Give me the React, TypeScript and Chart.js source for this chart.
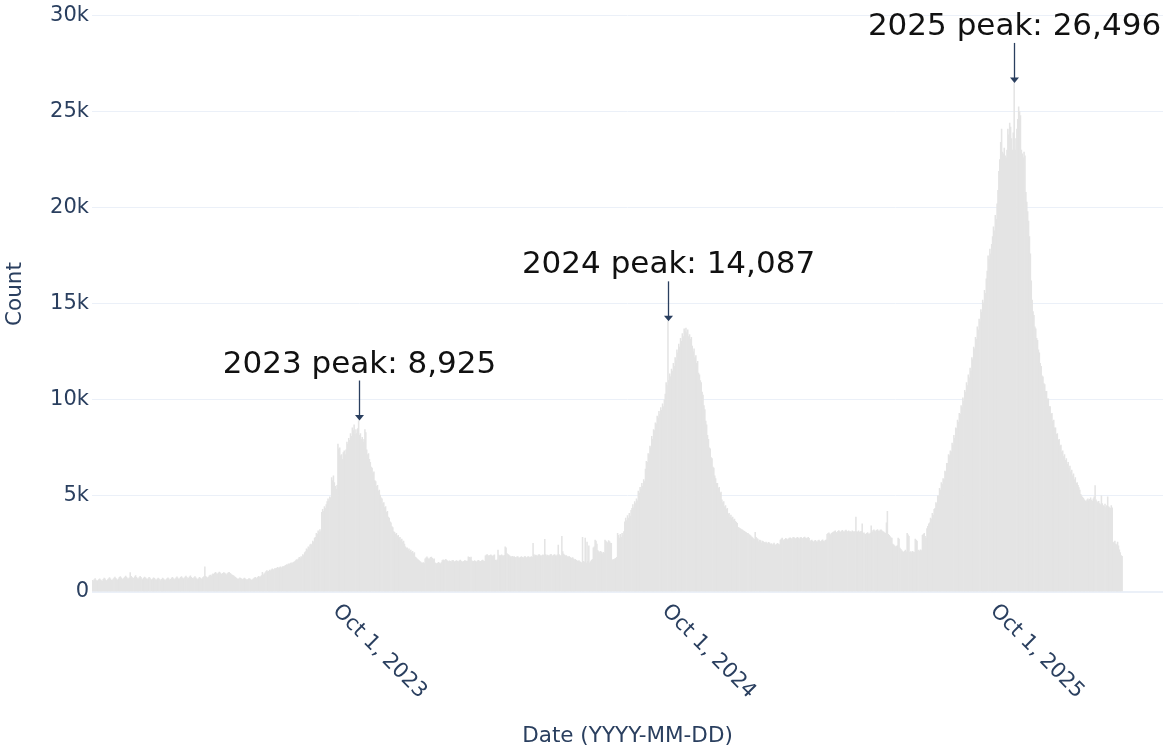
import React, { useEffect, useRef } from 'react';
import { Chart, registerables } from 'chart.js';

Chart.register(...registerables);

// ---------- data ----------
const startDate = '2023-01-01';
const axisEndDate = '2026-04-05';

const yearStarts = ['2023-01-01', '2024-01-01', '2025-01-01', '2026-01-01'];

const counts2023 = [
  610, 580, 640, 700, 620, 560, 590, 650, 690, 630,
  600, 570, 660, 720, 680, 610, 580, 640, 700, 750,
  690, 620, 600, 670, 730, 780, 710, 640, 620, 690,
  760, 800, 740, 680, 650, 720, 780, 830, 760, 700,
  680, 740, 1010, 820, 760, 700, 730, 790, 850, 770,
  700, 680, 750, 810, 760, 690, 650, 720, 780, 740,
  680, 640, 700, 760, 720, 660, 620, 690, 740, 710,
  650, 610, 670, 730, 690, 640, 600, 660, 720, 690,
  630, 600, 650, 700, 740, 680, 620, 660, 720, 760,
  700, 640, 680, 740, 790, 720, 660, 700, 760, 800,
  740, 680, 720, 780, 830, 760, 700, 730, 790, 840,
  770, 710, 690, 750, 800, 740, 680, 650, 700, 760,
  720, 670, 700, 760, 800, 1310, 820, 760, 720, 780,
  840, 880, 820, 900, 950, 920, 980, 1020, 960, 930,
  990, 1040, 1000, 950, 920, 970, 1010, 980, 940, 900,
  960, 1000, 1030, 970, 930, 900, 870, 840, 800, 760,
  720, 690, 660, 700, 740, 710, 670, 640, 680, 720,
  690, 650, 620, 660, 700, 680, 640, 610, 650, 690,
  720, 760, 700, 740, 780, 820, 760, 800, 860, 1020,
  880, 940, 1000, 1060, 1110, 1050, 1080, 1140, 1100, 1160,
  1200, 1140, 1180, 1230, 1190, 1250, 1290, 1230, 1270, 1310,
  1260, 1300, 1340, 1300, 1360, 1390, 1430, 1410, 1460, 1440,
  1490, 1520, 1480, 1530, 1560, 1580, 1640, 1690, 1660, 1730,
  1800, 1740, 1850, 1820, 1950, 1900, 2050, 2100, 2250, 2200,
  2350, 2300, 2450, 2500, 2450, 2650, 2600, 2800, 2850, 3050,
  3000, 3180, 3100, 3250, 3150, 4150, 4300, 4200, 4450, 4350,
  4550, 4700, 4850, 4750, 4950, 4900, 5950, 5800, 6050, 5700,
  5500, 5350, 5550, 7700, 7450, 7500, 7100, 7150, 6900, 7250,
  7350, 7150, 7400, 7800, 7700, 8000, 7900, 8250, 8100, 8550,
  8400, 8700, 8200, 8450, 8250, 8500, 8925, 8150, 8250, 7950,
  8050, 7800, 7950, 8450, 8300, 7400, 7150, 7200, 6900, 6750,
  6500, 6450, 6200, 6250, 5800, 5750, 5500, 5550, 5250, 5300,
  5050, 4900, 4850, 4600, 4650, 4400, 4450, 4150, 4200, 3900,
  3850, 3650, 3600, 3400, 3350, 3150, 3100, 3000, 3050, 2900,
  2950, 2800, 2850, 2700, 2750, 2600, 2650, 2500, 2350, 2280,
  2300, 2200, 2250, 2120, 2180, 2060, 2120, 2000, 2050, 1820,
  1780, 1730, 1690, 1650, 1600,
];

const counts2024 = [
  1560, 1520, 1500, 1530, 1480, 1720, 1780, 1830, 1760, 1700,
  1740, 1800, 1820, 1750, 1690, 1730, 1520, 1480, 1460, 1510,
  1550, 1490, 1470, 1530, 1640, 1680, 1620, 1660, 1700, 1650,
  1610, 1580, 1620, 1600, 1570, 1630, 1650, 1590, 1560, 1610,
  1640, 1600, 1570, 1620, 1660, 1610, 1580, 1550, 1600, 1640,
  1620, 1590, 1610, 1830, 1800, 1760, 1820, 1620, 1580, 1600,
  1640, 1590, 1560, 1610, 1650, 1620, 1580, 1600, 1630, 1660,
  1610, 1590, 1880, 1920, 1950, 1900, 1870, 1910, 1940, 1890,
  1860, 1900, 1930, 1660, 1640, 1680, 2180, 1920, 1880, 1900,
  1940, 1890, 1870, 1910, 2350, 2300, 2000, 1960, 1920, 1880,
  1850, 1830, 1860, 1820, 1840, 1800, 1780, 1830, 1850, 1790,
  1760, 1810, 1840, 1800, 1770, 1820, 1860, 1800, 1780, 1830,
  1850, 1790, 1810, 1840, 1800, 2530, 1950, 1880, 1920, 1900,
  1870, 1930, 1950, 1890, 1860, 1910, 1940, 1900, 2740, 1950,
  1880, 1920, 1900, 1880, 1940, 1960, 1890, 1870, 1920, 1950,
  1900, 1880, 1930, 2440, 1950, 1900, 1880, 2900, 2100, 1980,
  1920, 1880, 1900, 1850, 1820, 1860, 1800, 1780, 1750, 1790,
  1720, 1680, 1700, 1650, 1620, 1600, 1640, 1580, 1550, 1520,
  2850, 1600, 1560, 2800, 1500, 2600, 1600, 2400, 1520, 1580,
  1650, 1700, 2300, 2350, 2700, 2650, 2500, 2150, 2100, 2050,
  2120, 2080, 2000, 2060, 2020, 2700, 2650, 2600, 2560, 2680,
  2620, 2550, 2530, 1650, 1700, 1680, 1720, 1750, 1800, 3050,
  2950, 2800, 3000, 2850, 3050, 2950, 3150, 3650, 3850, 3720,
  3980, 3850, 4100, 3950, 4250, 4350, 4550, 4400, 4700, 4600,
  4850, 4750, 5250, 5150, 5450, 5350, 5650, 5500, 5850, 5750,
  6400, 6800, 6750, 7200, 7150, 7600, 7500, 8100, 7950, 8450,
  8400, 8800, 8750, 9150, 9050, 9400, 9250, 9600, 9450, 9800,
  9650, 10000, 10300, 10900, 10750, 14087, 11000, 11350, 11200, 11600,
  11500, 11900, 11750, 12200, 12050, 12600, 12450, 12900, 12750, 13200,
  13050, 13450, 13300, 13700, 13550, 13730, 13500, 13650, 13300, 13400,
  13150, 13250, 12800, 12500, 12650, 12200, 12300, 11900, 12000, 11400,
  11300, 11000, 10900, 10400, 10250, 9700, 9500, 8900, 8700, 8150,
  7950, 7500, 7450, 7000, 6950, 6500, 6450, 6050, 5900, 5650,
  5650, 5400, 5450, 5150, 5200, 4800, 4650, 4700, 4450, 4500,
  4300, 4350, 4050, 4100, 3900, 4000, 3850, 3900, 3750, 3800,
  3680, 3620, 3570, 3370, 3340, 3310, 3280, 3250, 3220, 3190,
  3160, 3120, 3090, 3050, 3050, 3000,
];

const counts2025 = [
  2960, 2920, 2870, 2830, 2780, 2740, 3100, 2850, 2780, 2750,
  2620, 2700, 2680, 2560, 2650, 2620, 2580, 2540, 2600, 2560,
  2520, 2580, 2540, 2480, 2520, 2450, 2500, 2540, 2470, 2430,
  2490, 2530, 2480, 2460, 2700, 2760, 2800, 2720, 2680, 2740,
  2790, 2750, 2710, 2770, 2800, 2820, 2780, 2760, 2830, 2850,
  2790, 2770, 2810, 2840, 2800, 2760, 2820, 2850, 2790, 2770,
  2830, 2860, 2800, 2780, 2810, 2840, 2790, 2620, 2680, 2700,
  2640, 2600, 2660, 2690, 2630, 2610, 2670, 2700, 2640, 2620,
  2680, 2710, 2650, 2630, 2690, 2720, 3000, 3050, 3080, 3020,
  2980, 3060, 3090, 3120, 3150, 3180, 3100, 3080, 3160, 3200,
  3140, 3110, 3170, 3210, 3150, 3120, 3180, 3220, 3160, 3130,
  3190, 3150, 3150, 3120, 3180, 3140, 3100, 3160, 3900, 3150,
  3120, 3180, 3100, 3140, 3160, 3550, 3050, 3080, 3020, 3000,
  3060, 3090, 3030, 3010, 3070, 3450, 3100, 3200, 3230, 3180,
  3150, 3210, 3250, 3190, 3160, 3220, 3240, 3180, 3150, 3120,
  3080, 3050, 3600, 4200, 3000, 2950, 2880, 2820, 2800, 2500,
  2450, 2400, 2350, 2380, 2420, 2800, 2750, 2280, 2220, 2150,
  2100, 2070, 2120, 2180, 2090, 3050, 2980, 2900, 2070, 2100,
  2050, 2120, 2080, 2060, 2750, 2700, 2650, 2150, 2180, 2120,
  2200, 2160, 2950, 3000, 3050, 2900, 2800, 3300, 3420, 3550,
  3600, 3850, 3800, 4100, 4000, 4300, 4350, 4650, 4600, 5000,
  5000, 5400, 5300, 5700, 5600, 5900, 5850, 6300, 6250, 6700,
  6700, 7150, 7100, 7350, 7300, 7750, 7650, 8150, 8000, 8550,
  8500, 8950, 8850, 9300, 9250, 9700, 9600, 10100, 9950, 10500,
  10400, 10900, 10750, 11300, 11150, 11650, 11500, 12200, 12100, 12750,
  12650, 13250, 13150, 13800, 13650, 14200, 14050, 14700, 14550, 15200,
  15050, 15700, 15550, 16300, 16700, 17500, 17300, 17850, 17600, 18100,
  18500, 19000, 18800, 19600, 19400, 20200, 20900, 21900, 22500, 23400,
  24100, 22900, 22800, 23100, 22700, 22600, 23000, 24100, 23800, 24400,
  24200, 23600, 23000, 23900, 26496, 23000, 23600, 24100, 24600, 25250,
  25000, 24800, 23000, 22800, 22600, 22900, 22700, 20800, 20300, 19800,
  19300, 18500, 17600, 16200, 15200, 14600, 14400, 13800, 13700, 13200,
  13100, 12600, 12450, 11900, 11750, 11250, 11200, 10850, 10800, 10450,
  10450, 10050, 10050, 9650, 9650, 9250, 9300, 8900, 8950, 8550,
  8550, 8200, 8250, 7900, 7950, 7600, 7650, 7300, 7350, 7050,
  7150, 6850, 6950, 6650, 6750, 6450, 6550, 6250, 6350, 6050,
  6150, 5850, 5950, 5650, 5700,
];

const counts2026 = [
  5550, 5440, 5300, 5080, 5000, 4930, 4870, 4800, 4750, 4700,
  4800, 4850, 4760, 4820, 4900, 4780, 4720, 4850, 4950, 5540,
  4800, 4700, 4650, 4720, 4600, 4550, 5000, 4600, 4500, 4450,
  4580, 4400, 4500, 4950, 4450, 4400, 4350, 4500, 4380, 2600,
  2550, 2650, 2500, 2450, 2600, 2400, 2200, 2050, 1900, 1860,
];

const yearCounts = [counts2023, counts2024, counts2025, counts2026];
const peakYears = ['2023', '2024', '2025'];

const xTickDates = ['2023-10-01', '2024-10-01', '2025-10-01'];
const yMax = 30000;
const yStep = 5000;

const xTitle = 'Date (YYYY-MM-DD)';
const yTitle = 'Count';

// ---------- styling ----------
const AXIS_COLOR = '#2a3f5f';
const GRID_COLOR = '#ebf0f8';
const BAR_COLOR = '#e4e4e4';
const FONT = '"DejaVu Sans", Verdana, sans-serif';

const DAY = 86400000;
const dayIndex = (d: string) => Math.round((Date.parse(d + 'T00:00:00Z') - Date.parse(startDate + 'T00:00:00Z')) / DAY);

const nDays = dayIndex(axisEndDate) + 1;
const labels: string[] = [];
for (let i = 0; i < nDays; i++) {
  labels.push(new Date(Date.parse(startDate + 'T00:00:00Z') + i * DAY).toISOString().slice(0, 10));
}
const values: (number | null)[] = new Array(nDays).fill(null);
yearCounts.forEach((arr, k) => {
  const off = dayIndex(yearStarts[k]);
  arr.forEach((v, i) => {
    values[off + i] = v;
  });
});

const MONTHS = ['Jan', 'Feb', 'Mar', 'Apr', 'May', 'Jun', 'Jul', 'Aug', 'Sep', 'Oct', 'Nov', 'Dec'];
const fmtTick = (d: string) => {
  const [y, m, dd] = d.split('-').map(Number);
  return `${MONTHS[m - 1]} ${dd}, ${y}`;
};

const overlayPlugin = {
  id: 'overlay',
  afterDraw(chart: any) {
    const { ctx, chartArea } = chart;
    const xs = chart.scales.x;
    const ys = chart.scales.y;
    ctx.save();

    // x tick labels (rotated clockwise 45deg)
    ctx.font = `21px ${FONT}`;
    ctx.fillStyle = AXIS_COLOR;
    ctx.textAlign = 'left';
    ctx.textBaseline = 'middle';
    xTickDates.forEach((d) => {
      const px = xs.getPixelForValue(labels.indexOf(d));
      ctx.save();
      ctx.translate(px - 2, chartArea.bottom + 16);
      ctx.rotate(Math.PI / 4);
      ctx.fillText(fmtTick(d), 0, 0);
      ctx.restore();
    });

    // axis titles
    ctx.font = `21.5px ${FONT}`;
    ctx.textAlign = 'center';
    ctx.textBaseline = 'alphabetic';
    ctx.fillText(xTitle, (chartArea.left + chartArea.right) / 2, 742);
    ctx.save();
    ctx.translate(21, 294);
    ctx.rotate(-Math.PI / 2);
    ctx.fillText(yTitle, 0, 0);
    ctx.restore();

    // peak annotations
    peakYears.forEach((yr, k) => {
      const arr = yearCounts[k];
      let best = 0;
      arr.forEach((v, i) => {
        if (v > arr[best]) best = i;
      });
      const idx = dayIndex(yearStarts[k]) + best;
      const val = arr[best];
      const px = Math.round(xs.getPixelForValue(idx)) + 0.5;
      const py = ys.getPixelForValue(val);
      ctx.strokeStyle = AXIS_COLOR;
      ctx.fillStyle = AXIS_COLOR;
      ctx.lineWidth = 1.3;
      ctx.beginPath();
      ctx.moveTo(px, py - 40);
      ctx.lineTo(px, py - 4);
      ctx.stroke();
      ctx.beginPath();
      ctx.moveTo(px - 4.5, py - 5.5);
      ctx.lineTo(px + 4.5, py - 5.5);
      ctx.lineTo(px, py);
      ctx.closePath();
      ctx.fill();

      ctx.font = `31px ${FONT}`;
      ctx.fillStyle = '#111111';
      ctx.textAlign = 'center';
      ctx.textBaseline = 'alphabetic';
      ctx.fillText(`${yr} peak: ${val.toLocaleString('en-US')}`, px, py - 48);
    });

    ctx.restore();
  },
};

export default function App() {
  const ref = useRef<HTMLCanvasElement | null>(null);

  useEffect(() => {
    if (!ref.current) return;
    const chart = new Chart(ref.current, {
      type: 'bar',
      data: {
        labels,
        datasets: [
          {
            label: 'Count',
            data: values,
            backgroundColor: BAR_COLOR,
            borderWidth: 0,
            barPercentage: 1,
            categoryPercentage: 1,
          },
        ],
      },
      options: {
        responsive: false,
        animation: false,
        devicePixelRatio: 1,
        layout: { padding: { top: 13, right: 0, bottom: 0, left: 0 } },
        plugins: {
          legend: { display: false },
          tooltip: { enabled: false },
        },
        scales: {
          x: {
            type: 'category',
            grid: { display: false },
            border: { display: false },
            ticks: { display: false },
            afterFit: (s: any) => {
              s.height = 156;
            },
          },
          y: {
            min: 0,
            max: yMax,
            border: { display: false },
            grid: {
              color: GRID_COLOR,
              drawTicks: false,
              lineWidth: (c: any) => (c.tick && c.tick.value === 0 ? 2 : 1),
            },
            ticks: {
              stepSize: yStep,
              padding: 3,
              color: AXIS_COLOR,
              font: { family: FONT, size: 21 },
              callback: (v: any) => (v === 0 ? '0' : `${v / 1000}k`),
            },
            afterFit: (s: any) => {
              s.width = 92;
            },
          },
        },
      },
      plugins: [overlayPlugin],
    });
    return () => chart.destroy();
  }, []);

  return (
    <div style={{ position: 'fixed', left: 0, top: 0, width: 1163, height: 748, background: '#fff' }}>
      <canvas ref={ref} width={1163} height={748} style={{ display: 'block', width: 1163, height: 748 }} />
    </div>
  );
}
